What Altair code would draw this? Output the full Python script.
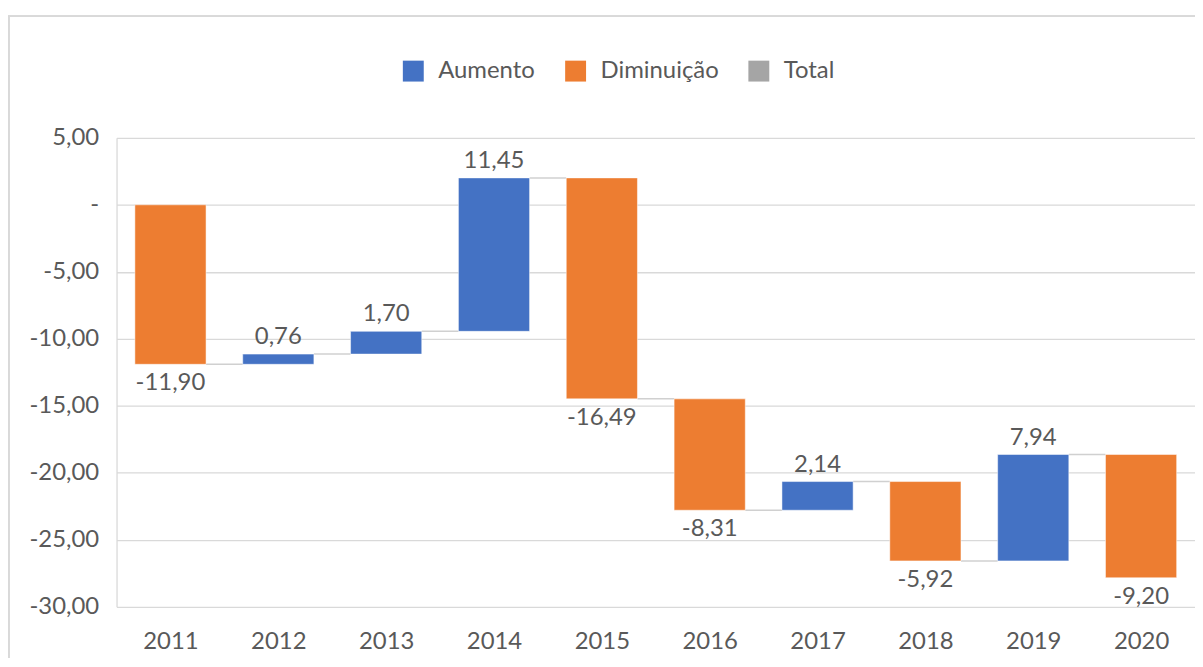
import altair as alt
import pandas as pd
import numpy as np

years = [2011, 2012, 2013, 2014, 2015, 2016, 2017, 2018, 2019, 2020]
changes = [-11.90, 0.76, 1.70, 11.45, -16.49, -8.31, 2.14, -5.92, 7.94, -9.20]
legend_labels = ["Aumento", "Diminuição", "Total"]
colors = ["#4472C4", "#ED7D31", "#A5A5A5"]
y_ticks = [-30, -25, -20, -15, -10, -5, 0, 5]

ends = pd.Series(changes).cumsum().round(2)
starts = (ends - pd.Series(changes)).round(2)
df = pd.DataFrame({"year": years, "change": changes, "start": starts, "end": ends})
df["kind"] = np.where(df["change"] >= 0, "Aumento", "Diminuição")
df["label"] = df["change"].map(lambda v: f"{v:.2f}".replace(".", ","))

FONT = "Lato"
GRAY = "#595959"
FS = 24
HALF = 0.33

x_scale = alt.Scale(domain=[2010.5, 2020.5], nice=False, zero=False)
y_scale = alt.Scale(domain=[-30, 5], nice=False, zero=False)
x_axis = alt.Axis(values=years, format="d", title=None, grid=False, domain=False, ticks=False,
                  labelFontSize=FS, labelColor=GRAY, labelFont=FONT, labelPadding=23)
y_axis = alt.Axis(values=y_ticks, title=None, grid=True, gridColor="#D9D9D9", gridWidth=1.3,
                  domain=True, domainColor="#D9D9D9", domainWidth=1.3, ticks=False,
                  labelFontSize=FS, labelColor=GRAY, labelFont=FONT, labelPadding=18,
                  labelExpr="datum.value == 0 ? '-' : replace((datum.value < 0 ? '-' : '') + format(abs(datum.value), '.2f'), '.', ',')")

base = alt.Chart(df).transform_calculate(
    x0=f"datum.year - {HALF}",
    x1=f"datum.year + {HALF}",
    c0=f"datum.year + {HALF}",
    c1=f"datum.year + 1 - {HALF}",
)

bars = base.mark_bar(stroke="white", strokeWidth=0.5).encode(
    x=alt.X("x0:Q", scale=x_scale, axis=x_axis),
    x2="x1:Q",
    y=alt.Y("start:Q", scale=y_scale, axis=y_axis),
    y2="end:Q",
    color=alt.Color("kind:N", scale=alt.Scale(domain=legend_labels, range=colors),
                    legend=alt.Legend(title=None, orient="none", legendX=286, legendY=-79,
                                      direction="horizontal", symbolType="square",
                                      symbolSize=441, symbolStrokeWidth=0,
                                      labelFontSize=FS, labelColor=GRAY, labelFont=FONT,
                                      columnPadding=28, labelOffset=13)),
)

connectors = base.transform_filter("datum.year < 2020").mark_rule(color="#D0D0D0", strokeWidth=1.5).encode(
    x=alt.X("c0:Q", scale=x_scale, axis=x_axis),
    x2="c1:Q",
    y=alt.Y("end:Q", scale=y_scale, axis=y_axis),
)

inc_labels = base.transform_filter("datum.change >= 0").mark_text(
    baseline="bottom", dy=-5, fontSize=FS, color=GRAY, font=FONT
).encode(
    x=alt.X("year:Q", scale=x_scale, axis=x_axis),
    y=alt.Y("end:Q", scale=y_scale, axis=y_axis),
    text="label:N",
)

dec_labels = base.transform_filter("datum.change < 0").mark_text(
    baseline="top", dy=7, fontSize=FS, color=GRAY, font=FONT
).encode(
    x=alt.X("year:Q", scale=x_scale, axis=x_axis),
    y=alt.Y("end:Q", scale=y_scale, axis=y_axis),
    text="label:N",
)

# outer chart frame (decoration)
frame_top = alt.Chart(df).mark_rule(color="#D9D9D9", strokeWidth=1.5).encode(
    x=alt.value(-109), x2=alt.value(1090), y=alt.value(-122)
)
frame_left = alt.Chart(df).mark_rule(color="#D9D9D9", strokeWidth=1.5).encode(
    x=alt.value(-108), y=alt.value(-122), y2=alt.value(530)
)

chart = alt.layer(frame_top, frame_left, connectors, bars, inc_labels, dec_labels).properties(
    width=1083, height=471,
    autosize=alt.AutoSizeParams(type="none"),
    padding={"left": 109, "top": 129, "right": 0, "bottom": 50},
).configure_view(stroke=None)

chart.save("out.html", embed_options={"renderer": "svg", "actions": False})
